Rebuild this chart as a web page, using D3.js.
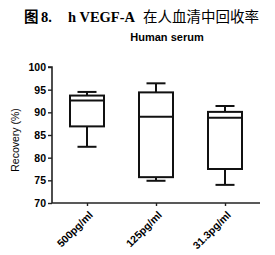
<!DOCTYPE html>
<html>
<head>
<meta charset="utf-8">
<script src="https://cdn.jsdelivr.net/npm/d3@7"></script>
<style>
  body { margin: 0; background: #fff; }
  svg { display: block; }
</style>
</head>
<body>
<svg width="275" height="255"></svg>
<script>
(function () {

	var groups = ["500pg/ml", "125pg/ml", "31.3pg/ml"];
	var mins = [82.4, 74.9, 74.0];
	var q1s = [86.9, 75.7, 77.5];
	var medians = [92.6, 89.0, 88.8];
	var q3s = [93.7, 94.4, 90.1];
	var maxs = [94.5, 96.4, 91.4];
	var yTicks = [70, 75, 80, 85, 90, 95, 100];

	var boxes = groups.map(function (g, i) {
		return { name: g, min: mins[i], q1: q1s[i], med: medians[i], q3: q3s[i], max: maxs[i] };
	});

	var svg = d3.select("svg");

	var x = d3.scalePoint()
		.domain(groups)
		.range([87, 225]);

	var y = d3.scaleLinear()
		.domain([70, 100])
		.range([203, 67]);

	var boxW = 34, capW = 19;

	// title, pieces placed like the original
	var serif = "'Liberation Serif', 'Noto Serif CJK SC', 'Noto Sans CJK SC', serif";
	var cjk = "'Noto Sans CJK SC', sans-serif";
	var title = svg.append("text")
		.attr("y", 22)
		.attr("font-weight", "bold")
		.attr("font-size", 14.5);
	title.append("tspan").attr("x", 24).attr("font-family", cjk).text("图");
	title.append("tspan").attr("x", 41).attr("font-family", serif).text("8.");
	title.append("tspan").attr("x", 68).attr("font-family", serif).text("h VEGF-A");
	title.append("tspan").attr("x", 143).attr("font-family", cjk).attr("font-weight", "normal").text("在人血清中回收率");

	svg.append("text")
		.attr("x", 167).attr("y", 41)
		.attr("text-anchor", "middle")
		.attr("font-family", "'Liberation Sans', Arial, sans-serif")
		.attr("font-weight", "bold")
		.attr("font-size", 11)
		.text("Human serum");

	// axes
	var yAxis = svg.append("g")
		.attr("transform", "translate(52,0)")
		.call(d3.axisLeft(y).tickValues(yTicks).tickSize(4).tickPadding(2));
	var xAxis = svg.append("g")
		.attr("transform", "translate(0,203)")
		.call(d3.axisBottom(x).tickSize(3).tickFormat(""));

	svg.selectAll(".domain").attr("stroke", "#222").attr("stroke-width", 1.6);
	svg.selectAll(".tick line").attr("stroke", "#222").attr("stroke-width", 1.4);
	xAxis.select(".domain").attr("d", "M52,0H260");
	yAxis.select(".domain").attr("d", "M-4,67H0V203");

	yAxis.selectAll("text")
		.attr("font-family", "'Liberation Sans', Arial, sans-serif")
		.attr("font-weight", "bold")
		.attr("font-size", 10.5)
		.attr("fill", "#000");

	svg.selectAll(".xlab")
		.data(groups)
		.enter()
		.append("text")
		.attr("class", "xlab")
		.attr("transform", function (d) { return "translate(" + (x(d) + 4) + ",213) rotate(-45)"; })
		.attr("text-anchor", "end")
		.attr("dy", "0.35em")
		.attr("font-family", "'Liberation Sans', Arial, sans-serif")
		.attr("font-weight", "bold")
		.attr("font-size", 10.5)
		.text(function (d) { return d; });

	svg.append("text")
		.attr("transform", "translate(19,140) rotate(-90)")
		.attr("text-anchor", "middle")
		.attr("font-family", "'Liberation Sans', Arial, sans-serif")
		.attr("font-size", 10.5)
		.text("Recovery (%)");

	// boxes
	var g = svg.selectAll(".box")
		.data(boxes)
		.enter()
		.append("g")
		.attr("class", "box")
		.attr("stroke", "#111")
		.attr("stroke-width", 2)
		.attr("fill", "none");

	g.append("line")
		.attr("x1", function (d) { return x(d.name); })
		.attr("x2", function (d) { return x(d.name); })
		.attr("y1", function (d) { return y(d.max); })
		.attr("y2", function (d) { return y(d.q3); });
	g.append("line")
		.attr("x1", function (d) { return x(d.name); })
		.attr("x2", function (d) { return x(d.name); })
		.attr("y1", function (d) { return y(d.q1); })
		.attr("y2", function (d) { return y(d.min); });
	g.append("line")
		.attr("x1", function (d) { return x(d.name) - capW / 2; })
		.attr("x2", function (d) { return x(d.name) + capW / 2; })
		.attr("y1", function (d) { return y(d.max); })
		.attr("y2", function (d) { return y(d.max); });
	g.append("line")
		.attr("x1", function (d) { return x(d.name) - capW / 2; })
		.attr("x2", function (d) { return x(d.name) + capW / 2; })
		.attr("y1", function (d) { return y(d.min); })
		.attr("y2", function (d) { return y(d.min); });
	g.append("rect")
		.attr("x", function (d) { return x(d.name) - boxW / 2; })
		.attr("width", boxW)
		.attr("y", function (d) { return y(d.q3); })
		.attr("height", function (d) { return y(d.q1) - y(d.q3); })
		.attr("fill", "#fff");
	g.append("line")
		.attr("x1", function (d) { return x(d.name) - boxW / 2; })
		.attr("x2", function (d) { return x(d.name) + boxW / 2; })
		.attr("y1", function (d) { return y(d.med); })
		.attr("y2", function (d) { return y(d.med); });

})();
</script>
</body>
</html>
